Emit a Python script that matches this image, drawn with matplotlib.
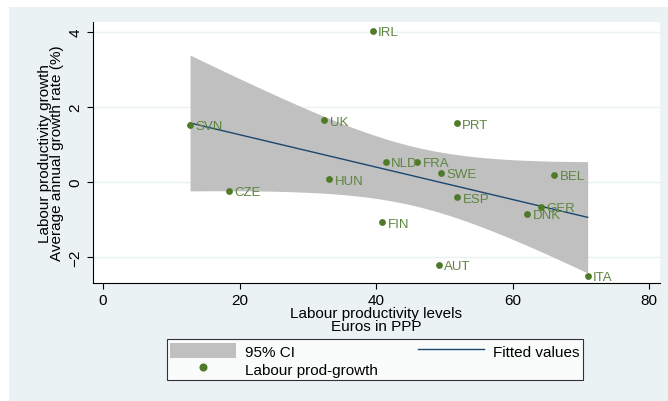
import numpy as np
import matplotlib.pyplot as plt
from matplotlib.patches import Rectangle, Patch
from matplotlib.lines import Line2D

plt.rcParams['font.family'] = ['Liberation Sans', 'DejaVu Sans']

# Data
countries = ['SVN', 'CZE', 'UK', 'HUN', 'IRL', 'NLD', 'FRA', 'SWE', 'PRT',
             'BEL', 'ESP', 'GER', 'DNK', 'FIN', 'AUT', 'ITA']
prod_level = [12.75, 18.4, 32.4, 33.1, 39.5, 41.4, 46.0, 49.5, 51.8,
              66.1, 51.9, 64.2, 62.1, 40.9, 49.2, 71.0]
prod_growth = [1.53, -0.23, 1.65, 0.08, 4.03, 0.55, 0.54, 0.25, 1.57,
               0.20, -0.40, -0.65, -0.85, -1.07, -2.20, -2.49]

bg = '#EAF2F3'
green = '#4F7A28'
label_green = '#5E8540'
navy = '#1A476F'

x = np.array(prod_level)
y = np.array(prod_growth)

# linear fit with 95% CI of the mean prediction
n = len(x)
b, a = np.polyfit(x, y, 1)
resid = y - (a + b * x)
s = np.sqrt(np.sum(resid ** 2) / (n - 2))
xs = np.linspace(x.min(), x.max(), 100)
fit = a + b * xs
se = s * np.sqrt(1 / n + (xs - x.mean()) ** 2 / np.sum((x - x.mean()) ** 2))
tcrit = 2.1448  # t(0.975, 14)

fig = plt.figure(figsize=(6.68, 4.02), dpi=100)
fig.patches.append(Rectangle((9 / 668, 0), 1, 1 - 8 / 402, transform=fig.transFigure,
                             facecolor=bg, edgecolor='none', zorder=-1))
ax = fig.add_axes([93 / 668, 1 - 284 / 402, 567 / 668, 261 / 402])

ax.fill_between(xs, fit - tcrit * se, fit + tcrit * se, color='#C0C0C0', lw=0, zorder=1)
ax.plot(xs, fit, color=navy, lw=1.0, zorder=2)
ax.scatter(x, y, s=24, color=green, zorder=3, linewidths=0)
for c, xi, yi in zip(countries, x, y):
    ax.annotate(c, (xi, yi), xytext=(4, -1), textcoords='offset points',
                va='center', ha='left', fontsize=9.5, color=label_green, zorder=4)

ax.set_xlim(-1.47, 81.6)
ax.set_ylim(-2.69, 4.27)
ax.set_xticks([0, 20, 40, 60, 80])
ax.set_yticks([-2, 0, 2, 4])
ax.grid(axis='y', color=bg, lw=1.0)
ax.set_axisbelow(True)
for sp in ['top', 'right']:
    ax.spines[sp].set_visible(False)
ax.spines['left'].set_linewidth(0.8)
ax.spines['bottom'].set_linewidth(0.8)
ax.tick_params(axis='both', labelsize=11, length=4, width=0.8)
for lbl in ax.get_yticklabels():
    lbl.set_rotation(90)
    lbl.set_va('center')

ax.set_xlabel('Labour productivity levels\nEuros in PPP', fontsize=11, labelpad=-1,
              linespacing=0.9)
ax.set_ylabel('Labour productivity growth\nAverage annual growth rate (%)', fontsize=11,
              labelpad=3, linespacing=0.9)

handles = [Patch(facecolor='#C0C0C0', edgecolor='none'),
           Line2D([], [], marker='o', color=green, lw=0, markersize=4.8),
           Line2D([], [], color=navy, lw=1.0)]
labels = ['95% CI', 'Labour prod-growth', 'Fitted values']
leg = fig.legend(handles, labels, ncol=2, loc='lower left',
                 bbox_to_anchor=(159 / 668, 1 - 389 / 402, (591 - 159) / 668, 45 / 402),
                 mode='expand', fontsize=11, frameon=True, fancybox=False,
                 edgecolor='black', handlelength=4.3, handleheight=1.1,
                 handletextpad=0.6, borderpad=0.25, labelspacing=0.15,
                 columnspacing=1.0)
leg.get_frame().set_linewidth(0.8)

fig.savefig('out.png', dpi=100)
